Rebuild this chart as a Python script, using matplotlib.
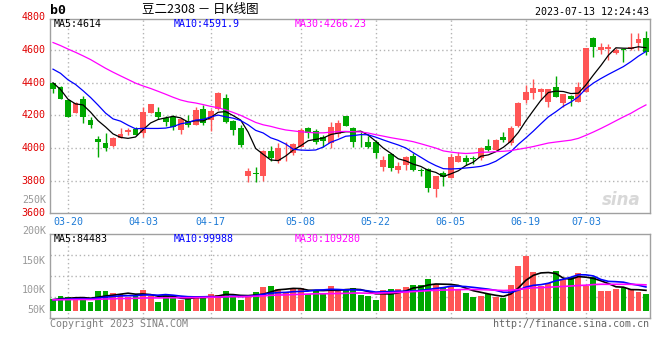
import numpy as np
import pandas as pd
import matplotlib
matplotlib.use("Agg")
import matplotlib.pyplot as plt

# daily bars, 80 trading days 2023-03-16 .. 2023-07-13
opens = [4400, 4371, 4294, 4216, 4303, 4171, 4054, 4032, 4012, 4061,
         4098, 4114, 4094, 4216, 4222, 4181, 4187, 4108, 4167, 4141,
         4238, 4171, 4236, 4307, 4165, 4120, 3830, 3848, 3830, 3983,
         3918, 3997, 3967, 4004, 4120, 4103, 4069, 4032, 4085, 4195,
         4120, 4063, 4038, 4038, 3885, 3962, 3865, 3895, 3950, 3867,
         3871, 3747, 3848, 3818, 3916, 3936, 3938, 3936, 4012, 3990,
         4065, 4028, 4136, 4293, 4334, 4344, 4283, 4373, 4273, 4318,
         4283, 4344, 4671, 4600, 4606, 4579, 4606, 4604, 4644, 4675]
highs = [4400, 4379, 4300, 4281, 4318, 4191, 4075, 4089, 4066, 4120,
         4120, 4126, 4253, 4271, 4248, 4194, 4200, 4181, 4200, 4253,
         4265, 4240, 4344, 4330, 4172, 4141, 3879, 3886, 3987, 4012,
         4032, 4038, 4032, 4120, 4130, 4114, 4079, 4157, 4171, 4198,
         4130, 4100, 4075, 4048, 3950, 3967, 3916, 3950, 3967, 3879,
         3875, 3830, 3859, 3961, 3977, 3957, 3950, 4008, 4055, 4055,
         4096, 4136, 4279, 4385, 4422, 4367, 4363, 4440, 4330, 4324,
         4406, 4614, 4680, 4640, 4634, 4614, 4608, 4702, 4706, 4716]
lows = [4338, 4300, 4191, 4216, 4155, 4124, 3946, 3983, 4008, 4061,
        4081, 4080, 4065, 4214, 4179, 4136, 4108, 4088, 4126, 4141,
        4141, 4106, 4230, 4155, 4079, 4008, 3794, 3794, 3797, 3920,
        3906, 3922, 3957, 4004, 4063, 4022, 4004, 4000, 4069, 4134,
        4008, 4008, 3997, 3936, 3861, 3859, 3844, 3865, 3859, 3828,
        3732, 3702, 3767, 3814, 3916, 3895, 3901, 3926, 3983, 3985,
        4038, 4018, 4130, 4273, 4300, 4296, 4253, 4314, 4253, 4259,
        4280, 4340, 4555, 4575, 4540, 4575, 4528, 4600, 4600, 4570]
closes = [4360, 4300, 4191, 4277, 4191, 4140, 4038, 3999, 4063, 4085,
          4110, 4080, 4222, 4269, 4191, 4161, 4126, 4175, 4141, 4232,
          4155, 4228, 4338, 4161, 4110, 4018, 3859, 3838, 3981, 3938,
          3997, 4000, 4022, 4110, 4094, 4038, 4040, 4130, 4155, 4134,
          4038, 4059, 4008, 3967, 3926, 3879, 3889, 3946, 3865, 3857,
          3757, 3828, 3820, 3946, 3950, 3916, 3934, 4002, 3987, 4048,
          4050, 4120, 4273, 4340, 4365, 4361, 4361, 4314, 4328, 4303,
          4373, 4612, 4620, 4618, 4618, 4600, 4600, 4616, 4665, 4589]
volumes = [50000, 62600, 58400, 58400, 50000, 37500, 83400, 83400, 75100, 70900,
           58400, 62600, 87600, 62600, 37500, 62600, 58400, 45900, 50000, 62600,
           62600, 70900, 66700, 83400, 58400, 45900, 66700, 79200, 100100, 104300,
           91700, 79200, 95900, 95900, 70900, 87600, 75100, 104300, 91700, 87600,
           95900, 66700, 62600, 45900, 87600, 91700, 91700, 100100, 108400, 108400,
           133400, 112600, 95900, 104300, 87600, 76500, 58400, 62600, 70900, 58400,
           54200, 108400, 187700, 230700, 162600, 104300, 116800, 166800, 133400, 141800,
           158500, 104300, 141800, 83400, 83400, 91700, 95900, 91700, 80600, 70900]

# sessions before 03-16, only used to start the moving averages
prior_closes = [4860, 4835, 4870, 4840, 4822, 4840, 4800, 4785, 4760, 4775,
                4752, 4737, 4730, 4712, 4695, 4688, 4677, 4480, 4442, 4450,
                4554, 4590, 4560, 4575, 4552, 4505, 4490, 4420, 4222]
prior_volumes = [44000, 48000, 46000, 43000, 50000, 47000, 45000, 49000, 44000, 46000,
                 48000, 45000, 47000, 43000, 46000, 49000, 45000, 47000, 44000, 48000,
                 46000, 45000, 50000, 44000, 47000, 46000, 48000, 45000, 47000]

tick_idx = [2, 12, 21, 33, 43, 53, 63, 71]
tick_labels = ["03-20", "04-03", "04-17", "05-08", "05-22", "06-05", "06-19", "07-03"]

price_labels = [4800, 4600, 4400, 4200, 4000, 3800, 3600]
vol_labels = ["200K", "150K", "100K", "50K"]
ma_windows = [5, 10, 30]
ma_colors = ["black", "#0000ff", "#ff00ff"]
price_ma_text = ["MA5:4614", "MA10:4591.9", "MA30:4266.23"]
vol_ma_text = ["MA5:84483", "MA10:99988", "MA30:109280"]

RED = "#ff5555"
GREEN = "#00a800"
GRIDC = "#b4b4b4"
MONO = "DejaVu Sans Mono"
FS = 7.2

n = len(closes)
x = np.arange(n)
o = np.array(opens); c = np.array(closes)
h = np.array(highs); l = np.array(lows)
v = np.array(volumes)
up = c >= o
cols = np.where(up, RED, GREEN)

all_c = pd.Series(prior_closes + closes)
all_v = pd.Series(prior_volumes + volumes)
k = len(prior_closes)

fig = plt.figure(figsize=(6.6, 3.6), dpi=100)
W, H = 660, 360


def rect(left, top, right, bottom):
    return [left / W, 1 - bottom / H, (right - left) / W, (bottom - top) / H]


axp = fig.add_axes(rect(50, 19, 650, 213.3))
axv = fig.add_axes(rect(50, 234, 650, 318))

for ax in (axp, axv):
    ax.set_xlim(-0.4, 79.54)
    for s in ax.spines.values():
        s.set_color("#a0a0a0")
        s.set_linewidth(1)
    ax.set_xticks(tick_idx)
    ax.grid(True, color=GRIDC, linestyle=(0, (1, 2)), linewidth=1)
    ax.set_axisbelow(True)
    ax.tick_params(length=0)

# price panel
axp.set_ylim(3600, 4790)
axp.set_yticks([3800, 4000, 4200, 4400, 4600], labels=[])
axp.set_xticklabels(tick_labels, family=MONO, fontsize=FS, color="#1c7ad6")
axp.tick_params(axis="x", pad=2.5)

bot = np.minimum(o, c)
hgt = np.maximum(np.abs(c - o), 5)
axp.vlines(x, l, h, colors=cols, linewidth=1, zorder=2)
axp.bar(x, hgt, bottom=bot, width=0.78, color=cols, linewidth=0, zorder=3)

for w, col in zip(ma_windows, ma_colors):
    ma = all_c.rolling(w).mean().values[k:]
    axp.plot(x, ma, color=col, linewidth=0.9, zorder=4)

ytr = axp.get_yaxis_transform()
for p in price_labels:
    axp.text(-0.007, p, str(p), transform=ytr, ha="right", va="center",
             family=MONO, fontsize=FS, color="#e00000", clip_on=False)
axp.text(-0.007, 3681, "250K", transform=ytr, ha="right", va="center",
         family=MONO, fontsize=FS, color="#999999", clip_on=False)

for xp, txt, col in zip([54, 174, 295], price_ma_text, ma_colors):
    fig.text(xp / W, 1 - 24 / H, txt, ha="left", va="center",
             family=MONO, fontsize=FS, color=col)

# sina watermark
axp.text(0.985, 0.07, "sina", transform=axp.transAxes, ha="right", va="center",
         fontsize=12, fontweight="bold", style="italic", color="#d8d8d8", zorder=1)

# volume panel
vy0, vy1 = -29200, 321000
axv.set_ylim(vy0, vy1)
axv.set_yticks(vy0 + (vy1 - vy0) * np.array([0.25, 0.5, 0.75]), labels=[])
axv.set_xticklabels([])
axv.bar(x, v, width=0.78, color=cols, linewidth=0, zorder=3)
for w, col in zip(ma_windows, ma_colors):
    ma = all_v.rolling(w).mean().values[k:]
    axv.plot(x, ma, color=col, linewidth=1.2, zorder=4)

for txt, py in zip(vol_labels, [231, 261, 290, 310]):
    axv.text(-0.007, (318 - py) / 84, txt, transform=axv.transAxes, ha="right",
             va="center", family=MONO, fontsize=FS, color="#999999", clip_on=False)

for xp, txt, col in zip([54, 174, 295], vol_ma_text, ma_colors):
    fig.text(xp / W, 1 - 238.5 / H, txt, ha="left", va="center",
             family=MONO, fontsize=FS, color=col)

# header / footer
fig.text(50 / W, 1 - 10 / H, "b0", ha="left", va="center", family=MONO,
         fontsize=9.5, fontweight="bold", color="black")
fig.text(200 / W, 1 - 10 / H, "豆二2308 － 日K线图", ha="center", va="center",
         family=["Noto Sans CJK SC", "DejaVu Sans"], fontsize=9, color="black")
fig.text(649 / W, 1 - 12 / H, "2023-07-13 12:24:43", ha="right", va="center",
         family=MONO, fontsize=FS, color="black")
fig.text(50 / W, 1 - 324 / H, "Copyright 2023 SINA.COM", ha="left", va="center",
         family=MONO, fontsize=FS, color="#808080")
fig.text(649 / W, 1 - 324 / H, "http://finance.sina.com.cn", ha="right", va="center",
         family=MONO, fontsize=FS, color="#666666")

fig.savefig("out.png", dpi=100, facecolor="white")
